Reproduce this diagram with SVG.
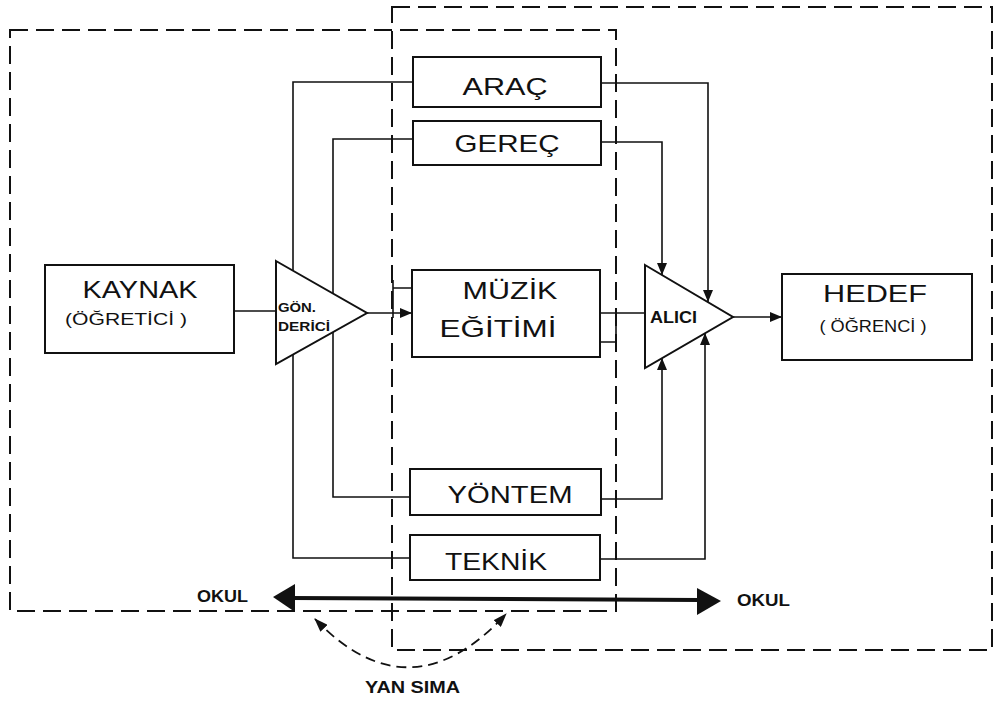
<svg xmlns="http://www.w3.org/2000/svg" width="996" height="702" viewBox="0 0 996 702">
<defs>
<style>
.box{fill:none;stroke:#111;stroke-width:2}
.dash{fill:none;stroke:#111;stroke-width:2;stroke-dasharray:18 8}
.wire{fill:none;stroke:#111;stroke-width:1.6}
.lbl{font-family:"Liberation Sans",Arial,sans-serif;fill:#111;font-size:24px}
.sub{font-family:"Liberation Sans",Arial,sans-serif;fill:#111;font-size:16px}
.bold{font-family:"Liberation Sans",Arial,sans-serif;fill:#111;font-weight:bold;font-size:16px}
.tiny{font-family:"Liberation Sans",Arial,sans-serif;fill:#111;font-weight:bold;font-size:13px}
</style>
<marker id="arr" markerWidth="12" markerHeight="10" refX="12" refY="5" orient="auto" markerUnits="userSpaceOnUse">
<path d="M0,0 L12,5 L0,10 z" fill="#111"/>
</marker>
<marker id="arr2" markerWidth="14" markerHeight="10" refX="13" refY="5" orient="auto-start-reverse" markerUnits="userSpaceOnUse">
<path d="M0,0 L14,5 L0,10 z" fill="#111"/>
</marker>
</defs>
<rect width="996" height="702" fill="#fff"/>

<g id="regions">
<rect class="dash" x="10" y="30" width="606" height="581"/>
<rect class="dash" x="392" y="7" width="600" height="643"/>
</g>

<g id="connectors">
<path class="wire" d="M413,82 H293 V270.5"/>
<path class="wire" d="M413,139 H333 V293.6"/>
<path class="wire" d="M410,497 H333 V332"/>
<path class="wire" d="M410,558 H293 V354.5"/>
<path class="wire" d="M234,311 H276"/>
<path class="wire" d="M367,313 H412" marker-end="url(#arr)"/>
<path class="wire" d="M393,288 H412 M393,280 V318"/>
<path class="wire" d="M600,313 H645 M600,342 H616 M616,313 V342"/>
<path class="wire" d="M601,83 H708 V302" marker-end="url(#arr)"/>
<path class="wire" d="M601,142 H662 V275" marker-end="url(#arr)"/>
<path class="wire" d="M601,499 H662 V358" marker-end="url(#arr)"/>
<path class="wire" d="M600,559 H705 V333" marker-end="url(#arr)"/>
<path class="wire" d="M733,317 H782" marker-end="url(#arr)"/>
<path d="M290,598 L700,600" stroke="#111" stroke-width="4" fill="none"/>
<polygon points="273,597 295,584 295,612" fill="#111"/>
<polygon points="721,601 697,588 697,615" fill="#111"/>
<path d="M315,619 Q410,718 506,614" fill="none" stroke="#111" stroke-width="1.8" stroke-dasharray="10 6" marker-start="url(#arr2)" marker-end="url(#arr2)"/>
</g>

<g id="kaynak">
<rect class="box" x="45" y="265" width="189" height="88"/>
<text class="lbl" x="140" y="298" text-anchor="middle" textLength="115" lengthAdjust="spacingAndGlyphs">KAYNAK</text>
<text class="sub" x="126" y="325" text-anchor="middle" textLength="122" lengthAdjust="spacingAndGlyphs">(ÖĞRETİCİ )</text>
</g>

<g id="gonderici">
<polygon class="box" points="276,261 367,313 276,364"/>
<text class="tiny" x="278" y="312" textLength="38" lengthAdjust="spacingAndGlyphs">GÖN.</text>
<text class="tiny" x="278" y="331" textLength="52" lengthAdjust="spacingAndGlyphs">DERİCİ</text>
</g>

<g id="arac">
<rect class="box" x="413" y="57" width="188" height="50"/>
<text class="lbl" x="505" y="95" text-anchor="middle" textLength="85" lengthAdjust="spacingAndGlyphs">ARAÇ</text>
</g>

<g id="gerec">
<rect class="box" x="413" y="121" width="188" height="44"/>
<text class="lbl" x="507" y="152" text-anchor="middle" textLength="105" lengthAdjust="spacingAndGlyphs">GEREÇ</text>
</g>

<g id="muzik">
<rect class="box" x="412" y="270" width="188" height="87"/>
<text class="lbl" x="510" y="299" text-anchor="middle" textLength="95" lengthAdjust="spacingAndGlyphs">MÜZİK</text>
<text class="lbl" x="498" y="337" text-anchor="middle" textLength="117" lengthAdjust="spacingAndGlyphs">EĞİTİMİ</text>
</g>

<g id="yontem">
<rect class="box" x="410" y="469" width="191" height="46"/>
<text class="lbl" x="510" y="503" text-anchor="middle" textLength="125" lengthAdjust="spacingAndGlyphs">YÖNTEM</text>
</g>

<g id="teknik">
<rect class="box" x="410" y="535" width="190" height="45"/>
<text class="lbl" x="496" y="570" text-anchor="middle" textLength="102" lengthAdjust="spacingAndGlyphs">TEKNİK</text>
</g>

<g id="alici">
<polygon class="box" points="645,265 733,317 645,368"/>
<text class="bold" x="650" y="323" font-size="15" textLength="47" lengthAdjust="spacingAndGlyphs">ALICI</text>
</g>

<g id="hedef">
<rect class="box" x="782" y="274" width="190" height="86"/>
<text class="lbl" x="875" y="302" text-anchor="middle" textLength="104" lengthAdjust="spacingAndGlyphs">HEDEF</text>
<text class="sub" x="873" y="332" text-anchor="middle" textLength="107" lengthAdjust="spacingAndGlyphs">( ÖĞRENCİ )</text>
</g>

<g id="labels">
<text class="bold" x="197" y="602" textLength="51" lengthAdjust="spacingAndGlyphs">OKUL</text>
<text class="bold" x="737" y="606" textLength="53" lengthAdjust="spacingAndGlyphs">OKUL</text>
<text class="bold" x="365" y="693" textLength="95" lengthAdjust="spacingAndGlyphs">YAN SIMA</text>
</g>
</svg>
